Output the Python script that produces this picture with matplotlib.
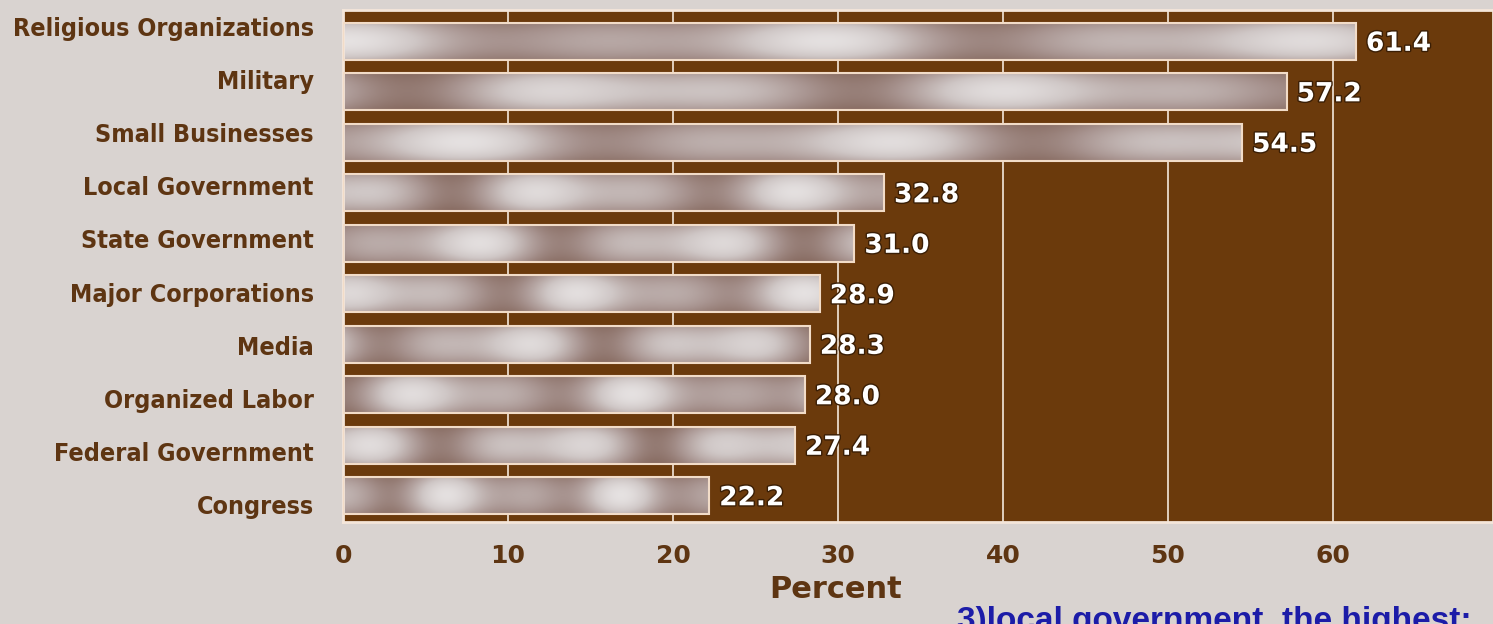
import matplotlib.pyplot as plt
import numpy as np
from matplotlib.colors import LinearSegmentedColormap
from matplotlib.patches import Rectangle
import matplotlib.patheffects as pe

# data
categories = ["Religious Organizations", "Military", "Small Businesses",
              "Local Government", "State Government", "Major Corporations",
              "Media", "Organized Labor", "Federal Government", "Congress"]
values = [61.4, 57.2, 54.5, 32.8, 31.0, 28.9, 28.3, 28.0, 27.4, 22.2]
ticks = [0, 10, 20, 30, 40, 50, 60]

bg = "#d9d3d0"
plot_bg = "#6b3a0c"
brown = "#5e3512"

fig = plt.figure(figsize=(14.93, 6.24), dpi=100, facecolor=bg)
ax = fig.add_axes([343 / 1493, 1 - 522 / 624, 1 - 343 / 1493, 512 / 624])
ax.set_facecolor(plot_bg)

# metallic look
metal = LinearSegmentedColormap.from_list(
    "metal", ["#7d5e52", "#a89490", "#cfc7c6", "#ebe8e8"])
xs = np.linspace(0, 1, 300)
ys = np.linspace(-1, 1, 30)[:, None]
vert = 1 - 0.35 * ys ** 2

for i, v in enumerate(values):
    horiz = 0.6 + 0.22 * np.cos(2 * np.pi * (xs * 2.2 + i * 0.37)) \
        + 0.12 * np.cos(2 * np.pi * (xs * 4.1 + i * 0.21))
    img = np.clip(horiz[None, :] * vert, 0, 1)
    ax.imshow(img, cmap=metal, vmin=0.1, vmax=1.0, aspect="auto",
              extent=(0, v, i + 0.37, i - 0.37), zorder=2, interpolation="bilinear")
    ax.add_patch(Rectangle((0, i - 0.37), v, 0.74, fill=False,
                           edgecolor="#f2dcc8", linewidth=1.5, zorder=3))
    ax.text(v + 0.6, i + 0.05, f"{v:.1f}", color="white", fontsize=19,
            fontweight="bold", va="center", ha="left", family="DejaVu Sans",
            path_effects=[pe.withStroke(linewidth=2, foreground="#3a1e05")],
            zorder=4)

for t in ticks[1:]:
    ax.axvline(t, color="#eadbcc", linewidth=1.3, zorder=1)

ax.set_xlim(0, 69.7)
ax.set_ylim(9.52, -0.62)
ax.set_xticks(ticks)
ax.set_xticklabels([str(t) for t in ticks], fontsize=18, fontweight="bold",
                   color=brown, family="DejaVu Sans")
# labels sit on a slightly wider spacing than the bars
ax.set_yticks([i * 1.053 - 0.3 for i in range(len(categories))])
ax.set_yticklabels(categories, fontsize=18, fontweight="bold", color=brown,
                   family="DejaVu Sans", fontstretch="condensed")
ax.tick_params(axis="both", length=0)
ax.tick_params(axis="x", pad=16)
ax.tick_params(axis="y", pad=21)
for s in ax.spines.values():
    s.set_color("#f4e6da")
    s.set_linewidth(2)

fig.text(836 / 1493, 1 - 589 / 624, "Percent", fontsize=22, fontweight="bold",
         color=brown, ha="center", va="center", family="DejaVu Sans")
fig.text(957 / 1493, 1 - 606 / 624, "3)local government, the highest;",
         fontsize=24, fontweight="bold", color="#1c1ca8", ha="left", va="top",
         family="Liberation Sans")

fig.savefig("out.png", dpi=100, facecolor=bg)
